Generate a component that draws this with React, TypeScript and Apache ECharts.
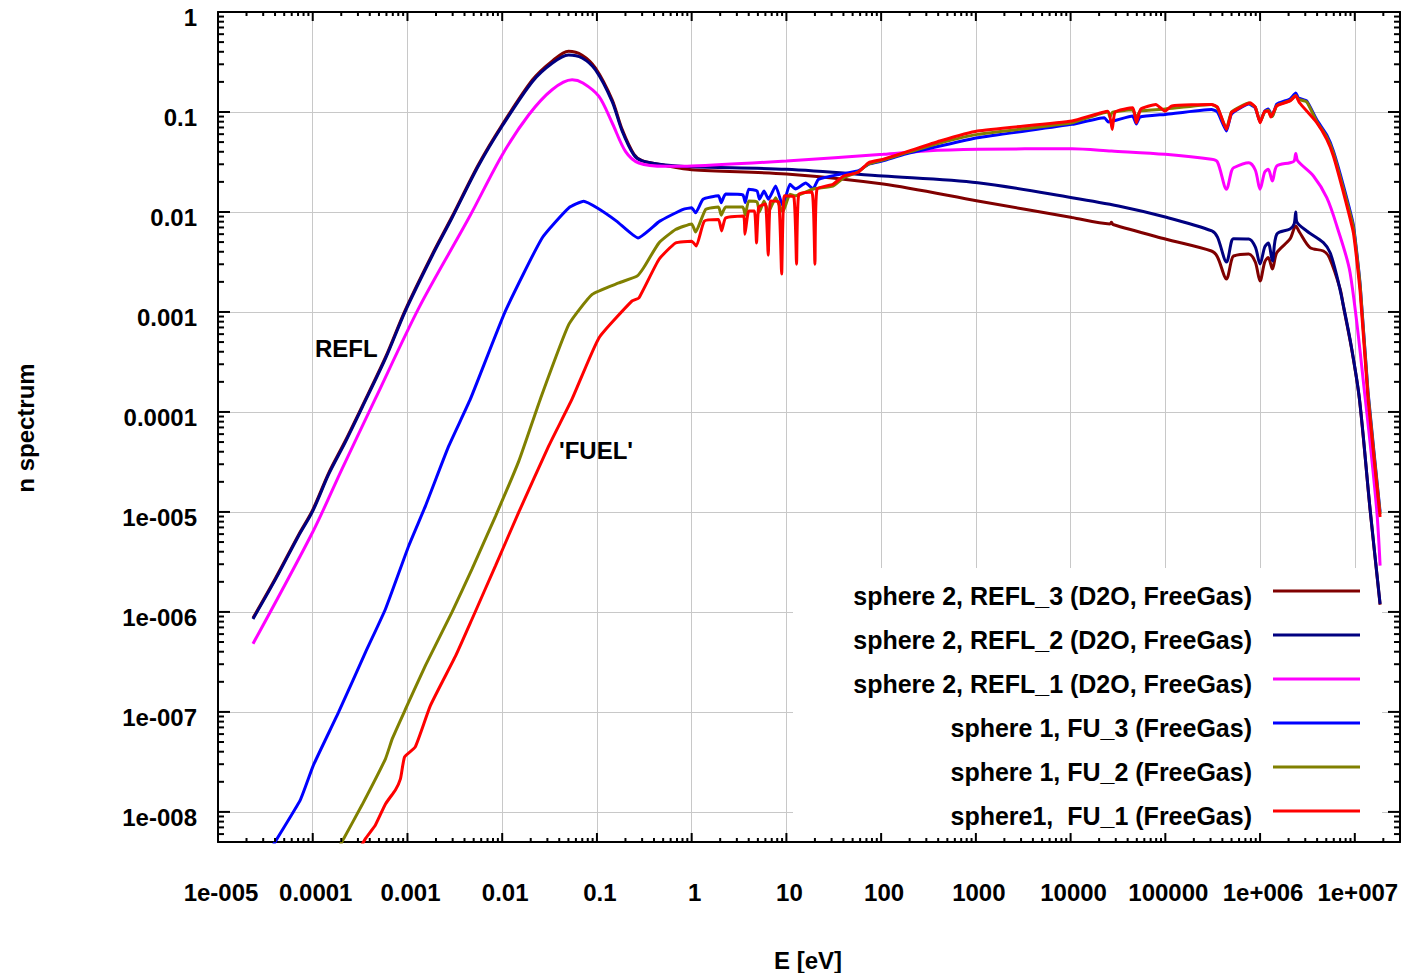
import React, { useEffect, useRef } from "react";
import * as echarts from "echarts";

const FONT = 'Arial, "Liberation Sans", Helvetica, sans-serif';

const seriesNames = [
  "sphere 2, REFL_3 (D2O, FreeGas)",
  "sphere 2, REFL_2 (D2O, FreeGas)",
  "sphere 2, REFL_1 (D2O, FreeGas)",
  "sphere 1, FU_3 (FreeGas)",
  "sphere 1, FU_2 (FreeGas)",
  "sphere1,  FU_1 (FreeGas)",
];
const seriesColors = ["#800000", "#000080", "#ff00ff", "#0000ff", "#808000", "#ff0000"];

const xTickLabels = ["1e-005", "0.0001", "0.001", "0.01", "0.1", "1", "10", "100", "1000", "10000", "100000", "1e+006", "1e+007"];
const yTickLabels = ["1e-008", "1e-007", "1e-006", "1e-005", "0.0001", "0.001", "0.01", "0.1", "1"];

// [E (eV), n spectrum]
const refl3: number[][] = [
  [2.34e-5, 8.7e-7], [4.07e-5, 2.2e-6], [7.08e-5, 5.9e-6], [1e-4, 1.05e-5], [1.48e-4, 2.47e-5],
  [2.21e-4, 5.15e-5], [3.31e-4, 1.13e-4], [5.9e-4, 3.57e-4], [9.5e-4, 1.05e-3], [1.82e-3, 3.74e-3],
  [2.95e-3, 8.95e-3], [5.6e-3, 0.0297], [0.01, 0.0745], [0.0209, 0.21], [0.0339, 0.325],
  [0.0501, 0.405], [0.0698, 0.37], [0.0966, 0.275], [0.1445, 0.133], [0.1845, 0.067],
  [0.245, 0.038], [0.3, 0.0326], [0.53, 0.0292], [1, 0.0265], [10, 0.024], [105, 0.019],
  [1047, 0.0129], [1.035e4, 8.8e-3], [2.6e4, 7.6e-3], [2.7e4, 7.9e-3], [2.8e4, 7.5e-3],
  [1e5, 5.37e-3], [3.07e5, 4.07e-3], [3.55e5, 3.55e-3], [4.42e5, 2.14e-3], [5.0e5, 3.3e-3],
  [5.25e5, 3.63e-3], [7.6e5, 3.8e-3], [8.9e5, 3.16e-3], [1.0e6, 2.04e-3], [1.12e6, 3.16e-3],
  [1.22e6, 3.5e-3], [1.35e6, 2.69e-3], [1.5e6, 3.9e-3], [2.07e6, 5.37e-3], [2.38e6, 7.24e-3],
  [2.6e6, 6.3e-3], [3.37e6, 4.4e-3], [4.66e6, 4.07e-3], [5.39e6, 3.5e-3], [7.0e6, 1.7e-3],
  [7.59e6, 1.13e-3], [9.29e6, 4.2e-4], [1.12e7, 1.33e-4], [1.45e7, 1.05e-5], [1.85e7, 1.18e-6],
];

const refl2: number[][] = [
  [2.34e-5, 8.5e-7], [4.07e-5, 2.14e-6], [7.08e-5, 5.75e-6], [1e-4, 1.02e-5], [1.48e-4, 2.4e-5],
  [2.21e-4, 5.0e-5], [3.31e-4, 1.1e-4], [5.9e-4, 3.47e-4], [9.5e-4, 1.02e-3], [1.82e-3, 3.63e-3],
  [2.95e-3, 8.7e-3], [5.6e-3, 0.0288], [0.01, 0.0724], [0.0209, 0.202], [0.0339, 0.309],
  [0.0501, 0.372], [0.0698, 0.347], [0.0966, 0.263], [0.1445, 0.1276], [0.1845, 0.0646],
  [0.245, 0.0372], [0.3, 0.0324], [0.53, 0.0295], [1, 0.0283], [10, 0.0267], [105, 0.0229],
  [1047, 0.0196], [1.035e4, 0.0139], [3.2e4, 0.01148], [1e5, 8.9e-3], [3.1e5, 6.46e-3],
  [3.55e5, 5.6e-3], [4.42e5, 3.16e-3], [5.0e5, 5.1e-3], [5.25e5, 5.4e-3], [7.6e5, 5.37e-3],
  [8.9e5, 4.47e-3], [1.0e6, 3.02e-3], [1.12e6, 4.47e-3], [1.22e6, 4.9e-3], [1.35e6, 3.24e-3],
  [1.5e6, 6.0e-3], [2.07e6, 6.76e-3], [2.29e6, 7.6e-3], [2.38e6, 0.01], [2.45e6, 7.9e-3],
  [3.11e6, 6.46e-3], [4.66e6, 4.94e-3], [5.48e6, 3.93e-3], [6.46e6, 2.29e-3], [7.59e6, 1.15e-3],
  [9.29e6, 4.27e-4], [1.12e7, 1.35e-4], [1.45e7, 1.07e-5], [1.85e7, 1.2e-6],
];

const refl1: number[][] = [
  [2.34e-5, 4.8e-7], [1e-4, 6.3e-6], [2.04e-4, 2.7e-5], [4.57e-4, 1.35e-4], [1.32e-3, 1.1e-3],
  [4.44e-3, 8.7e-3], [0.01, 0.0372], [0.019, 0.0933], [0.0336, 0.167], [0.0547, 0.21],
  [0.0711, 0.195], [0.105, 0.143], [0.145, 0.0776], [0.2, 0.0404], [0.277, 0.0309],
  [0.53, 0.0286], [1, 0.0288], [10, 0.0324], [105, 0.0377], [295, 0.0407], [1047, 0.0423],
  [1.035e4, 0.043], [2.7e4, 0.0407], [1e5, 0.0377], [3.07e5, 0.0336], [3.55e5, 0.0316],
  [4.42e5, 0.0169], [5.0e5, 0.0257], [5.25e5, 0.0277], [7.6e5, 0.0311], [8.9e5, 0.0263],
  [1.0e6, 0.0169], [1.12e6, 0.0251], [1.22e6, 0.0267], [1.35e6, 0.0204], [1.5e6, 0.0288],
  [2.07e6, 0.0311], [2.29e6, 0.0324], [2.38e6, 0.0385], [2.5e6, 0.0324], [3.66e6, 0.0229],
  [5.06e6, 0.0139], [6.46e6, 7.24e-3], [8.91e6, 2.48e-3], [1.29e7, 1.35e-4], [1.7e7, 1.07e-5],
  [1.85e7, 2.9e-6],
];

const fu3: number[][] = [
  [2.34e-5, 2.1e-9], [4.2e-5, 5.4e-9], [7.4e-5, 1.32e-8], [1.02e-4, 2.95e-8], [1.88e-4, 1.0e-7],
  [3.63e-4, 4.0e-7], [5.86e-4, 1.07e-6], [1.03e-3, 4.57e-6], [1.55e-3, 1.15e-5], [2.73e-3, 4.57e-5],
  [4.62e-3, 1.35e-4], [0.0108, 1.02e-3], [0.0264, 5.5e-3], [0.0505, 0.011], [0.0724, 0.0128],
  [0.1, 0.011], [0.161, 8.1e-3], [0.272, 5.5e-3], [0.461, 8.1e-3], [0.813, 0.01064], [1, 0.011],
  [1.1, 9.8e-3], [1.32, 0.0134], [1.92, 0.0145], [2.05, 0.0124], [2.28, 0.0151], [3.47, 0.0148],
  [3.68, 0.0124], [4.0, 0.0169], [4.9, 0.0162], [5.2, 0.0134], [5.8, 0.0162], [6.47, 0.0134],
  [7.7, 0.0182], [9.16, 0.0115], [10.9, 0.0189], [12.5, 0.017], [16, 0.0195], [19.1, 0.017],
  [21.8, 0.0212], [36.7, 0.0238], [56.8, 0.0257], [73.6, 0.03], [104, 0.0324], [175, 0.0377],
  [417, 0.0457], [1040, 0.0553], [1.035e4, 0.0752], [2.27e4, 0.0877], [2.5e4, 0.0794],
  [4.5e4, 0.0912], [4.95e4, 0.0759], [5.4e4, 0.0891], [1e5, 0.0946], [3.07e5, 0.106],
  [3.55e5, 0.1], [4.42e5, 0.0646], [5.0e5, 0.0955], [7.6e5, 0.12], [8.9e5, 0.11], [1.0e6, 0.0794],
  [1.12e6, 0.102], [1.22e6, 0.107], [1.35e6, 0.0912], [1.5e6, 0.12], [2.07e6, 0.135],
  [2.38e6, 0.155], [2.54e6, 0.138], [3.11e6, 0.129], [3.98e6, 0.0832], [5.06e6, 0.0589],
  [5.94e6, 0.0407], [7.59e6, 0.0182], [9.66e6, 7.4e-3], [1.14e7, 1.86e-3], [1.38e7, 1.58e-4],
  [1.85e7, 1.0e-5],
];

const fu2: number[][] = [
  [1.58e-4, 3.2e-9], [2.12e-4, 5.4e-9], [3.31e-4, 1.17e-8], [5.86e-4, 3.4e-8], [6.92e-4, 5.4e-8],
  [9.55e-4, 1.07e-7], [1.55e-3, 2.92e-7], [2.96e-3, 1.0e-6], [4.81e-3, 2.7e-6], [8.51e-3, 9.1e-6],
  [0.015, 3.24e-5], [0.0253, 1.35e-4], [0.0505, 7.5e-4], [0.0891, 1.5e-3], [0.17, 1.95e-3],
  [0.266, 2.29e-3], [0.31, 2.75e-3], [0.451, 4.9e-3], [0.676, 6.67e-3], [1, 7.6e-3], [1.1, 6.3e-3],
  [1.41, 0.01064], [1.92, 0.0112], [2.05, 9.3e-3], [2.28, 0.0112], [3.47, 0.0112], [3.68, 9.3e-3],
  [4.0, 0.0129], [4.9, 0.0126], [5.2, 0.01], [5.8, 0.0129], [6.47, 0.01], [7.7, 0.0139],
  [9.16, 0.01], [10.9, 0.015], [12.5, 0.0145], [19.1, 0.017], [31, 0.0182], [40, 0.0219],
  [56.8, 0.0251], [73.6, 0.0302], [104, 0.0331], [175, 0.0385], [417, 0.049], [1040, 0.0597],
  [1.035e4, 0.0782], [2.48e4, 0.1], [2.6e4, 0.089], [2.75e4, 0.099], [4.5e4, 0.105], [4.95e4, 0.087],
  [5.4e4, 0.102], [1e5, 0.107], [3.07e5, 0.119], [3.55e5, 0.11], [4.42e5, 0.068], [5.0e5, 0.1],
  [7.6e5, 0.123], [8.9e5, 0.112], [1.0e6, 0.08], [1.12e6, 0.1], [1.22e6, 0.104], [1.35e6, 0.09],
  [1.5e6, 0.116], [2.07e6, 0.13], [2.38e6, 0.146], [2.54e6, 0.134], [3.11e6, 0.126], [3.98e6, 0.08],
  [5.06e6, 0.056], [5.94e6, 0.039], [7.59e6, 0.017], [9.66e6, 7.0e-3], [1.14e7, 1.8e-3],
  [1.38e7, 1.5e-4], [1.85e7, 9.5e-6],
];

const fu1: number[][] = [
  [2.8e-4, 3.5e-9], [3.6e-4, 5.4e-9], [4.59e-4, 7.4e-9], [5.86e-4, 1.2e-8], [7.46e-4, 1.66e-8],
  [8.43e-4, 2.14e-8], [9.33e-4, 3.55e-8], [1.21e-3, 4.47e-8], [1.75e-3, 1.16e-7], [3.24e-3, 3.67e-7],
  [4.81e-3, 8.5e-7], [8.51e-3, 2.91e-6], [0.015, 1.0e-5], [0.031, 4.57e-5], [0.0547, 1.35e-4],
  [0.105, 5.5e-4], [0.235, 1.29e-3], [0.277, 1.38e-3], [0.451, 3.35e-3], [0.676, 4.9e-3],
  [1, 5.1e-3], [1.12, 4.57e-3], [1.36, 8.1e-3], [1.92, 8.4e-3], [2.07, 6.46e-3], [2.28, 8.7e-3],
  [3.52, 9.1e-3], [3.65, 6.0e-3], [4.0, 0.0102], [4.6, 0.0102], [4.84, 4.9e-3], [5.1, 0.0112],
  [6.0, 0.012], [6.43, 3.7e-3], [6.8, 0.0129], [8.3, 0.0126], [8.91, 2.4e-3], [9.5, 0.0145],
  [12.0, 0.0141], [12.8, 3.0e-3], [13.5, 0.015], [18.6, 0.0158], [20, 3.0e-3], [21, 0.0169],
  [31, 0.0189], [40, 0.0229], [56.8, 0.0248], [73.6, 0.0311], [104, 0.0336], [175, 0.0392],
  [417, 0.0513], [1040, 0.0646], [1.035e4, 0.0813], [2.48e4, 0.102], [2.75e4, 0.067], [2.95e4, 0.1],
  [4.54e4, 0.11], [4.95e4, 0.078], [5.5e4, 0.107], [7.94e4, 0.119], [9.9e4, 0.102], [1.17e5, 0.115],
  [3.07e5, 0.119], [3.55e5, 0.112], [4.42e5, 0.067], [5.0e5, 0.1], [5.25e5, 0.102], [7.84e5, 0.124],
  [8.9e5, 0.112], [1.0e6, 0.078], [1.12e6, 0.102], [1.22e6, 0.102], [1.3e6, 0.089], [1.5e6, 0.115],
  [2.07e6, 0.129], [2.38e6, 0.145], [2.6e6, 0.124], [3.98e6, 0.078], [5.06e6, 0.0532],
  [5.94e6, 0.0363], [7.59e6, 0.0156], [9.66e6, 6.2e-3], [1.14e7, 1.57e-3], [1.38e7, 1.35e-4],
  [1.85e7, 8.9e-6],
];

const seriesData = [refl3, refl2, refl1, fu3, fu2, fu1];
const seriesSmooth = [0.3, 0.3, 0.3, 0.15, 0.15, 0.15];

const X_MIN = 1e-5;
const X_MAX = 3e7;
const Y_MIN = 5e-9;
const Y_MAX = 1;

function decadeLabel(v: number, offset: number, labels: string[]): string {
  const l = Math.log10(v);
  const e = Math.round(l);
  if (Math.abs(l - e) > 1e-6) return "";
  return labels[e + offset] ?? "";
}

function isDecade(v: number): boolean {
  const l = Math.log10(v);
  return Math.abs(l - Math.round(l)) < 1e-6;
}

// tick positions for the mirrored log ticks (1..9 per decade)
function logTicks(lo: number, hi: number): number[] {
  const out: number[] = [];
  for (let d = Math.floor(Math.log10(lo)); d <= Math.ceil(Math.log10(hi)); d++) {
    for (let k = 1; k <= 9; k++) {
      const v = k * Math.pow(10, d);
      if (v >= lo * 0.999 && v <= hi * 1.001) out.push(v);
    }
  }
  return out;
}

export default function App() {
  const ref = useRef<HTMLDivElement>(null);
  useEffect(() => {
    if (!ref.current) return;
    const chart = echarts.init(ref.current, undefined, { renderer: "svg" });
    const xTicks = logTicks(X_MIN, X_MAX);
    const yTicks = logTicks(Y_MIN, Y_MAX);
    const tickStyle = { stroke: "#000", lineWidth: 2 };

    const lineSeries = seriesNames.map((name, i) => ({
      name,
      type: "line",
      data: seriesData[i],
      symbol: "none",
      showSymbol: false,
      smooth: seriesSmooth[i],
      clip: true,
      z: 2 + i * 0.01,
      lineStyle: { color: seriesColors[i], width: 3 },
      itemStyle: { color: seriesColors[i] },
      emphasis: { disabled: true },
    }));

    const labelFont = { color: "#000", fontFamily: FONT, fontSize: 24, fontWeight: "bold" };

    const option: any = {
      animation: false,
      backgroundColor: "#ffffff",
      textStyle: { fontFamily: FONT },
      grid: { left: 218, top: 12, right: 1, bottom: 131, outerBoundsMode: "none", containLabel: false },
      xAxis: [
        {
          type: "log",
          logBase: 10,
          min: X_MIN,
          max: X_MAX,
          interval: 1,
          position: "bottom",
          axisLine: { show: true, lineStyle: { color: "#000", width: 2 } },
          axisTick: { show: false },
          minorTick: { show: false },
          axisLabel: {
            ...labelFont,
            show: true,
            margin: 38,
            padding: [0, 0, 0, 6],
            showMinLabel: true,
            showMaxLabel: true,
            hideOverlap: false,
            formatter: (v: number) => decadeLabel(v, 5, xTickLabels),
          },
          splitLine: { show: true, lineStyle: { color: "#c8c8c8", width: 1 } },
        },
        {
          type: "log",
          logBase: 10,
          min: X_MIN,
          max: X_MAX,
          interval: 1,
          position: "top",
          axisLine: { show: true, lineStyle: { color: "#000", width: 2 } },
          axisTick: { show: false },
          axisLabel: { show: false },
          splitLine: { show: false },
        },
      ],
      yAxis: [
        {
          type: "log",
          logBase: 10,
          min: Y_MIN,
          max: Y_MAX,
          splitNumber: 9,
          position: "left",
          axisLine: { show: true, lineStyle: { color: "#000", width: 2 } },
          axisTick: { show: false },
          axisLabel: {
            ...labelFont,
            show: true,
            margin: 21,
            verticalAlign: "top",
            lineHeight: 11,
            showMinLabel: true,
            showMaxLabel: true,
            hideOverlap: false,
            formatter: (v: number) => decadeLabel(v, 8, yTickLabels),
          },
          splitLine: { show: true, lineStyle: { color: "#c8c8c8", width: 1 } },
        },
        {
          type: "log",
          logBase: 10,
          min: Y_MIN,
          max: Y_MAX,
          splitNumber: 9,
          position: "right",
          axisLine: { show: true, lineStyle: { color: "#000", width: 2 } },
          axisTick: { show: false },
          axisLabel: { show: false },
          splitLine: { show: false },
        },
      ],
      legend: {
        orient: "vertical",
        align: "right",
        right: 41,
        top: 581,
        padding: 0,
        itemWidth: 87,
        itemHeight: 13,
        itemGap: 14,
        icon: "path://M0,0L87,0L87,3L0,3Z M0,13L0,13",
        selectedMode: false,
        data: seriesNames,
        textStyle: {
          ...labelFont,
          fontSize: 25,
          width: 440,
          lineHeight: 30,
          align: "right",
          padding: [0, 16, 0, 0],
        },
      },
      graphic: {
        elements: [
          { type: "rect", z: 1, silent: true, shape: { x: 793, y: 568, width: 589, height: 272 }, style: { fill: "#ffffff" } },
          { type: "text", z: 10, x: 315, y: 348, style: { text: "REFL", font: `bold 24px ${FONT}`, fill: "#000", verticalAlign: "middle" } },
          { type: "text", z: 10, x: 559, y: 450, style: { text: "'FUEL'", font: `bold 24px ${FONT}`, fill: "#000", verticalAlign: "middle" } },
          { type: "text", z: 10, x: 25, y: 428, rotation: Math.PI / 2, style: { text: "n spectrum", font: `bold 24px ${FONT}`, fill: "#000", align: "center", verticalAlign: "middle" } },
          { type: "text", z: 10, x: 808, y: 960, style: { text: "E [eV]", font: `bold 24px ${FONT}`, fill: "#000", align: "center", verticalAlign: "middle" } },
        ],
      },
      series: [
        ...lineSeries,
        {
          type: "custom",
          name: "xticks",
          silent: true,
          z: 5,
          xAxisIndex: 0,
          yAxisIndex: 0,
          data: xTicks.map((v) => [v, 0.01]),
          encode: { x: 0, y: 1 },
          renderItem: (params: any, api: any) => {
            const v = api.value(0);
            const x = api.coord([v, 0.01])[0];
            const cs = params.coordSys;
            const len = isDecade(v) ? 9 : 4;
            const bottom = cs.y + cs.height;
            return {
              type: "group",
              children: [
                { type: "line", shape: { x1: x, y1: bottom, x2: x, y2: bottom - len }, style: tickStyle },
                { type: "line", shape: { x1: x, y1: cs.y, x2: x, y2: cs.y + len }, style: tickStyle },
              ],
            };
          },
        },
        {
          type: "custom",
          name: "yticks",
          silent: true,
          z: 5,
          xAxisIndex: 0,
          yAxisIndex: 0,
          data: yTicks.map((v) => [1, v]),
          encode: { x: 0, y: 1 },
          renderItem: (params: any, api: any) => {
            const v = api.value(1);
            const y = api.coord([1, v])[1];
            const cs = params.coordSys;
            const len = isDecade(v) ? 12 : 6;
            const right = cs.x + cs.width;
            return {
              type: "group",
              children: [
                { type: "line", shape: { x1: cs.x, y1: y, x2: cs.x + len, y2: y }, style: tickStyle },
                { type: "line", shape: { x1: right, y1: y, x2: right - len, y2: y }, style: tickStyle },
              ],
            };
          },
        },
      ],
    };
    chart.setOption(option);
    return () => chart.dispose();
  }, []);
  return <div ref={ref} style={{ position: "absolute", left: 0, top: 0, width: 1401, height: 973 }} />;
}
